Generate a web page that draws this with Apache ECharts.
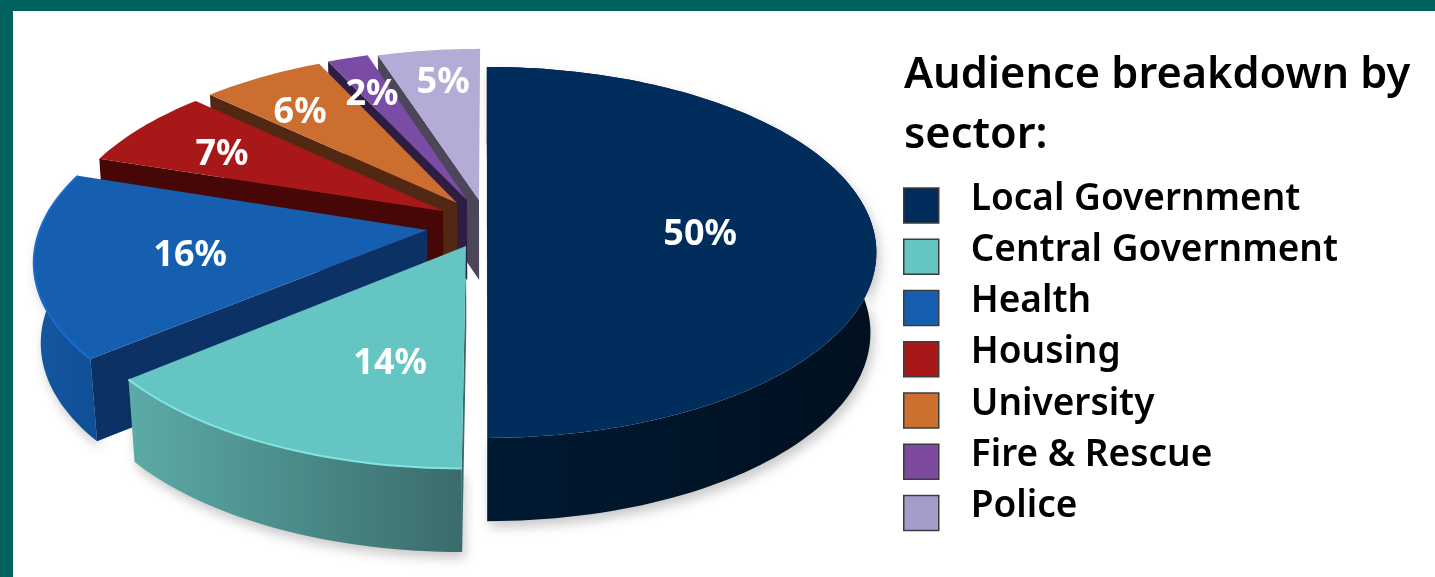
<!DOCTYPE html>
<html><head><meta charset="utf-8">
<style>html,body{margin:0;padding:0;background:#fff}#c{width:1435px;height:577px}</style>
<script src="https://cdn.jsdelivr.net/npm/echarts@6/dist/echarts.min.js"></script>
</head><body><div id="c"></div>
<script>
const categories = ['Local Government','Central Government','Health','Housing','University','Fire & Rescue','Police'];
const shares = [50,14,16,7,6,2,5];
const titleLines = ['Audience breakdown by','sector:'];

const FONT = '"Noto Sans","Open Sans",sans-serif';
// per-slice look
const topColors  = ['#002D5C','#64C5C2','#165EB0','#A81818','#CC6E2F','#7A4CA5','#B4ABD6'];
const sideFrom   = ['#001A33','#5CABA7','#14589F','#6E0F0F','#8A4A1F','#4F3170','#7B7596'];
const sideTo     = ['#00101F','#3A6C6B','#0E4F96','#470707','#522812','#2F1C42','#4B465A'];
const wallColors = ['#00142A','#3A6C6B','#0C3265','#470707','#522812','#2F1C42','#4B465A'];
const rimColors  = [null,'#7FE6E2','#1B6AD0',null,null,null,null];
const legendColors = ['#002B5B','#64C5C2','#165EB0','#A91818','#CC702F','#7D4A9E','#A59CCB'];
const explodeU   = [0.0026,-0.0508,-0.1524,-0.1132,-0.077,-0.0506,-0.0186];
const explodeV   = [0,0.1465,0.0606,-0.0449,-0.0906,-0.108,-0.108];
const flatten    = [0,0.035,0.035,0.035,0.035,0.035,0.035];
const labelSpots = [[0.552,0.0715],[-0.219,0.692],[-0.747,0.183],[-0.739,-0.40],[-0.545,-0.682],[-0.341,-0.811],[-0.130,-0.90]];
const paintOrder = [6,5,4,3,2,0,1];

// camera: disk coords (u right, v toward viewer, h down) to the screen
const CAM = {cx:486, cy:219, A:383, B:179.5, D:80.3, Dv:3, k:0.18, m:0.015};
function project(u,v,h){
  const w = 1 - CAM.k*v;
  return [CAM.cx + CAM.A*u/(w + CAM.m*h), CAM.cy + CAM.B*v/w + h*(CAM.D + CAM.Dv*v)];
}
const total = shares.reduce((a,b)=>a+b,0);
function sliceAngles(i){
  const before = shares.slice(0,i).reduce((a,b)=>a+b,0);
  return [before/total*2*Math.PI, (before+shares[i])/total*2*Math.PI];
}
function rimPoints(i,h){
  const [a0,a1] = sliceAngles(i), ou=explodeU[i], ov=explodeV[i], pts=[];
  const n=Math.max(8,Math.round((a1-a0)*40));
  for(let j=0;j<=n;j++){
    const t=a0+(a1-a0)*j/n, du=Math.sin(t), dv=-Math.cos(t), r=1-flatten[i]*dv;
    pts.push(project(ou+du*r,ov+dv*r,h));
  }
  return {pts, tip:project(ou,ov,h)};
}
function renderSlice(i){
  const top=rimPoints(i,0), bot=rimPoints(i,1), kids=[];
  const frontFacing = i<3;
  if(frontFacing) kids.push({type:'polygon',shape:{points:top.pts.concat(bot.pts.slice().reverse())},
    style:{fill:{type:'linear',x:0,y:0,x2:1,y2:0,colorStops:[{offset:0,color:sideFrom[i]},{offset:1,color:sideTo[i]}]},
      shadowBlur:12,shadowColor:'rgba(0,0,0,0.22)',shadowOffsetX:3,shadowOffsetY:6}});
  kids.push({type:'polygon',shape:{points:[top.tip,top.pts[0],bot.pts[0],bot.tip]},style:{fill:wallColors[i]}});
  kids.push({type:'polygon',shape:{points:[top.tip].concat(top.pts)},style:{fill:topColors[i]}});
  if(rimColors[i]) kids.push({type:'polyline',shape:{points:top.pts},style:{stroke:rimColors[i],lineWidth:2,fill:'none'}});
  const p=project(labelSpots[i][0],labelSpots[i][1],0);
  kids.push({type:'text',x:p[0],y:p[1]+3,z2:50,style:{text:shares[i]+'%',fill:'#fff',font:'700 36px '+FONT,align:'center',verticalAlign:'middle'}});
  return {type:'group',children:kids};
}
const series = paintOrder.map(i=>({
  type:'custom',name:categories[i],coordinateSystem:'none',silent:true,z:10,
  itemStyle:{color:legendColors[i]},
  data:[{name:categories[i],value:shares[i]}],
  renderItem:()=>renderSlice(i)
}));
const chart = echarts.init(document.getElementById('c'),null,{renderer:'canvas'});
chart.setOption({
  animation:false,backgroundColor:'#ffffff',
  legend:{orient:'vertical',left:898,top:175.5,itemWidth:35,itemHeight:35,itemGap:8,selectedMode:false,
    data:categories.map((n,i)=>({name:n,icon:'rect',itemStyle:{color:legendColors[i],borderColor:'#3c3c3c',borderWidth:1.5}})),
    formatter:n=>'{t|'+n+'}\n{s| }',
    textStyle:{padding:[0,0,0,27],rich:{
      t:{fontFamily:FONT,fontWeight:600,fontSize:37,lineHeight:35,color:'#000'},
      s:{fontSize:1,lineHeight:13}}}},
  graphic:[
    {type:'rect',shape:{x:0,y:0,width:1435,height:11},style:{fill:'#00625F'},z:100},
    {type:'rect',shape:{x:0,y:0,width:13,height:577},style:{fill:'#00625F'},z:100},
    {type:'text',x:904,y:76,style:{text:titleLines[0],font:'600 43.3px '+FONT,fill:'#000',verticalAlign:'middle'},z:100},
    {type:'text',x:904,y:136,style:{text:titleLines[1],font:'600 43.3px '+FONT,fill:'#000',verticalAlign:'middle'},z:100}
  ],
  series
});
</script></body></html>
